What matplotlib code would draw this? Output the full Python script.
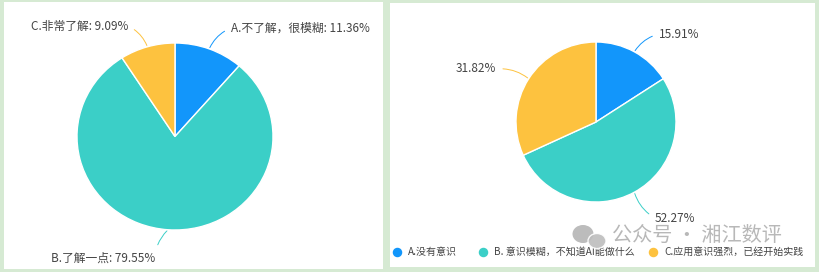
import numpy as np
import matplotlib.pyplot as plt
from matplotlib.patches import Rectangle, Ellipse

plt.rcParams['font.family'] = ['Noto Sans CJK SC', 'DejaVu Sans']

# survey data
left_labels = ['A.不了解，很模糊', 'B.了解一点', 'C.非常了解']
left_values = [11.36, 79.55, 9.09]
right_labels = ['A.没有意识', 'B. 意识模糊，不知道AI能做什么', 'C.应用意识强烈，已经开始实践']
right_values = [15.91, 52.27, 31.82]
colors = ['#1296fb', '#3bcfc7', '#fdc23f']

W, H = 820, 272
fig = plt.figure(figsize=(W / 100, H / 100), dpi=100)
fig.patch.set_facecolor('#d6ead3')

# background axes in pixel coordinates (y down)
bg = fig.add_axes([0, 0, 1, 1])
bg.set_xlim(0, W)
bg.set_ylim(H, 0)
bg.axis('off')
bg.add_patch(Rectangle((4, 2), 379, 267, fc='white', ec='none'))
bg.add_patch(Rectangle((390, 3), 425, 264, fc='white', ec='none'))


def pie_axes(x0, y0, x1, y1):
    return fig.add_axes([x0 / W, 1 - y1 / H, (x1 - x0) / W, (y1 - y0) / H])


def draw_pie(ax, values):
    wedges, _ = ax.pie(values, colors=colors, startangle=90, counterclock=False,
                       wedgeprops=dict(edgecolor='white', linewidth=1))
    ax.set_xlim(-1, 1)
    ax.set_ylim(-1, 1)
    ax.set_aspect('auto')
    ax.axis('off')
    return wedges


def leader(ax, wedge, text, tx, ty, ha, color, rad):
    ang = np.deg2rad((wedge.theta1 + wedge.theta2) / 2)
    bg.annotate(text, xy=(np.cos(ang), np.sin(ang)), xycoords=ax.transData,
                xytext=(tx, ty), textcoords='data', ha=ha, va='center',
                fontsize=8.5, color='#444444', annotation_clip=False,
                arrowprops=dict(arrowstyle='-', color=color, lw=0.7,
                                shrinkA=3, shrinkB=1,
                                relpos=(0 if ha == 'left' else 1, 0.5),
                                connectionstyle=f'arc3,rad={rad}'))


# left pie
axl = pie_axes(77, 43, 273, 230)
wl = draw_pie(axl, left_values)
left_pos = [(231, 28, 'left', 0.2), (155, 258, 'right', -0.2), (128, 26, 'right', -0.2)]
for w, lab, v, c, (tx, ty, ha, rad) in zip(wl, left_labels, left_values, colors, left_pos):
    leader(axl, w, f'{lab}: {v:.2f}%', tx, ty, ha, c, rad)

# right pie
axr = pie_axes(516, 42, 676, 202)
wr = draw_pie(axr, right_values)
right_pos = [(659, 34, 'left', 0.2), (655, 218, 'left', -0.2), (496, 69, 'right', -0.2)]
for w, v, c, (tx, ty, ha, rad) in zip(wr, right_values, colors, right_pos):
    leader(axr, w, f'{v:.2f}%', tx, ty, ha, c, rad)

# legend
leg_x = [397, 483, 653]
for x, lab, c in zip(leg_x, right_labels, colors):
    bg.scatter([x], [252], s=34, color=c, zorder=3)
    bg.text(x + 11, 252, lab, fontsize=7.2, color='#444444', va='center', ha='left')

# watermark
bg.add_patch(Ellipse((583, 234), 21, 18, fc='#ababab', ec='none', alpha=0.8, zorder=4))
bg.add_patch(Ellipse((597, 241), 18, 15, fc='#bdbdbd', ec='white', lw=1, alpha=0.9, zorder=4))
bg.text(612, 235, '公众号 · 湘江数评', fontsize=14.5, color='#a0a0a0', alpha=0.75,
        va='center', ha='left', zorder=5)

fig.savefig('out.png', dpi=100, facecolor=fig.get_facecolor())
